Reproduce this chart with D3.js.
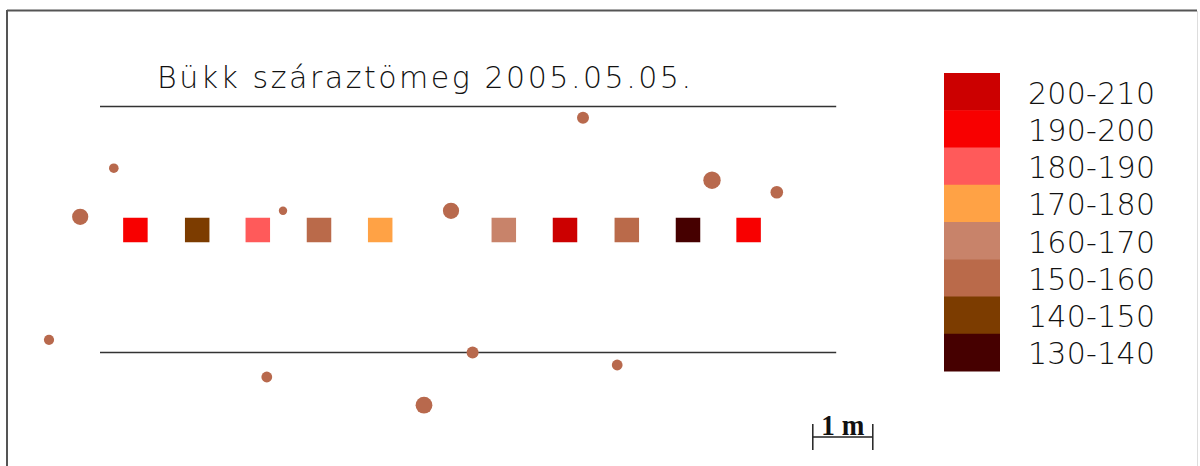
<!DOCTYPE html>
<html>
<head>
<meta charset="utf-8">
<script src="https://cdn.jsdelivr.net/npm/d3@7"></script>
<style>
  html, body { margin: 0; padding: 0; background: #fff; }
  svg { display: block; }
</style>
</head>
<body>
<svg id="chart" width="1200" height="466"></svg>
<script>
// ---- data (metres; origin at left end of transect, y positive = up) ----
const title = "Bükk száraztömeg 2005.05.05.";
// sample squares along the transect
const sampleX = [0.59, 1.62, 2.63, 3.65, 4.67, 6.73, 7.75, 8.78, 9.80, 10.81];
const sampleValue = [195, 145, 185, 155, 175, 165, 205, 155, 135, 195];
// trees (x, y in m; trunk diameter in cm)
const treeX = [0.23, -0.33, 3.05, 5.85, 10.20, 11.28, 8.05, -0.85, 2.78, 5.40, 6.21, 8.62];
const treeY = [1.03, 0.22, 0.32, 0.32, 0.83, 0.63, 1.87, -1.83, -2.45, -2.92, -2.04, -2.25];
const treeD = [16, 27, 14, 27, 29, 21, 20, 17, 18, 28, 20, 18];
// transect border lines
const lineY = [2.06, -2.03];
const lineX = [0, 12.27];
// legend classes (top to bottom)
const classLabels = ["200-210", "190-200", "180-190", "170-180", "160-170", "150-160", "140-150", "130-140"];
const classColors = ["#cc0000", "#f80000", "#ff5a5a", "#ffa245", "#c8836a", "#ba6a4a", "#7c3c00", "#460000"];
const classBreaks = [140, 150, 160, 170, 180, 190, 200];
const scaleBarLabel = "1 m";

// ---- drawing ----
const svg = d3.select("#chart");
const pxPerM = 60;
const x = d3.scaleLinear().domain([0, 1]).range([100, 100 + pxPerM]);
const y = d3.scaleLinear().domain([0, 1]).range([230, 230 - pxPerM]);

const color = d3.scaleThreshold()
  .domain(classBreaks)
  .range(classColors.slice().reverse());

const thinFont = "'DejaVu Sans', 'Liberation Sans', sans-serif";

// frame
svg.append("line").attr("x1", 7).attr("x2", 1197).attr("y1", 10.5).attr("y2", 10.5)
  .attr("stroke", "#555").attr("stroke-width", 2);
svg.append("line").attr("x1", 7).attr("x2", 7).attr("y1", 10).attr("y2", 466)
  .attr("stroke", "#555").attr("stroke-width", 2);
svg.append("line").attr("x1", 1197.5).attr("x2", 1197.5).attr("y1", 11).attr("y2", 466)
  .attr("stroke", "#ddd").attr("stroke-width", 1);

// title
svg.append("text")
  .attr("x", 157).attr("y", 88)
  .attr("font-family", thinFont)
  .attr("font-weight", 200)
  .attr("font-size", 30)
  .attr("textLength", 534)
  .attr("lengthAdjust", "spacing")
  .attr("fill", "#111")
  .text(title);

// transect lines
svg.selectAll("line.transect").data(lineY).join("line")
  .attr("class", "transect")
  .attr("x1", x(lineX[0])).attr("x2", x(lineX[1]))
  .attr("y1", d => Math.round(y(d)) + 0.5).attr("y2", d => Math.round(y(d)) + 0.5)
  .attr("stroke", "#333").attr("stroke-width", 1.6);

// sample squares
const sq = 24.5;
svg.selectAll("rect.sample").data(sampleX).join("rect")
  .attr("class", "sample")
  .attr("x", d => x(d) - sq / 2)
  .attr("y", y(0) - sq / 2)
  .attr("width", sq).attr("height", sq)
  .attr("fill", (d, i) => color(sampleValue[i]));

// trees
svg.selectAll("circle.tree").data(treeX).join("circle")
  .attr("class", "tree")
  .attr("cx", d => x(d))
  .attr("cy", (d, i) => y(treeY[i]))
  .attr("r", (d, i) => (x(treeD[i] / 100) - x(0)) / 2)
  .attr("fill", "#b8694d");

// legend
const band = d3.scaleBand().domain(classLabels).range([73, 371]);
const lg = svg.append("g");
lg.selectAll("rect").data(classLabels).join("rect")
  .attr("x", 944).attr("width", 56)
  .attr("y", d => band(d)).attr("height", band.bandwidth() + 0.5)
  .attr("fill", (d, i) => classColors[i]);
lg.selectAll("text").data(classLabels).join("text")
  .attr("x", 1028)
  .attr("y", d => band(d) + band.bandwidth() / 2 + 12)
  .attr("font-family", thinFont)
  .attr("font-weight", 200)
  .attr("font-size", 30)
  .attr("textLength", 127)
  .attr("lengthAdjust", "spacing")
  .attr("fill", "#111")
  .text(d => d);

// scale bar (1 m)
const sbX0 = 11.88, sbY = -3.45;
const sb = svg.append("g").attr("stroke", "#222").attr("stroke-width", 1.5);
sb.append("line").attr("x1", x(sbX0)).attr("x2", x(sbX0 + 1)).attr("y1", y(sbY)).attr("y2", y(sbY));
sb.append("line").attr("x1", x(sbX0)).attr("x2", x(sbX0)).attr("y1", y(sbY) - 13).attr("y2", y(sbY) + 13);
sb.append("line").attr("x1", x(sbX0 + 1)).attr("x2", x(sbX0 + 1)).attr("y1", y(sbY) - 13).attr("y2", y(sbY) + 13);
svg.append("text")
  .attr("x", x(sbX0 + 0.5)).attr("y", y(sbY) - 2)
  .attr("text-anchor", "middle")
  .attr("font-family", "'Liberation Serif', 'DejaVu Serif', serif")
  .attr("font-weight", "bold")
  .attr("font-size", 29)
  .attr("textLength", 43)
  .attr("lengthAdjust", "spacingAndGlyphs")
  .attr("fill", "#111")
  .text(scaleBarLabel);
</script>
</body>
</html>
